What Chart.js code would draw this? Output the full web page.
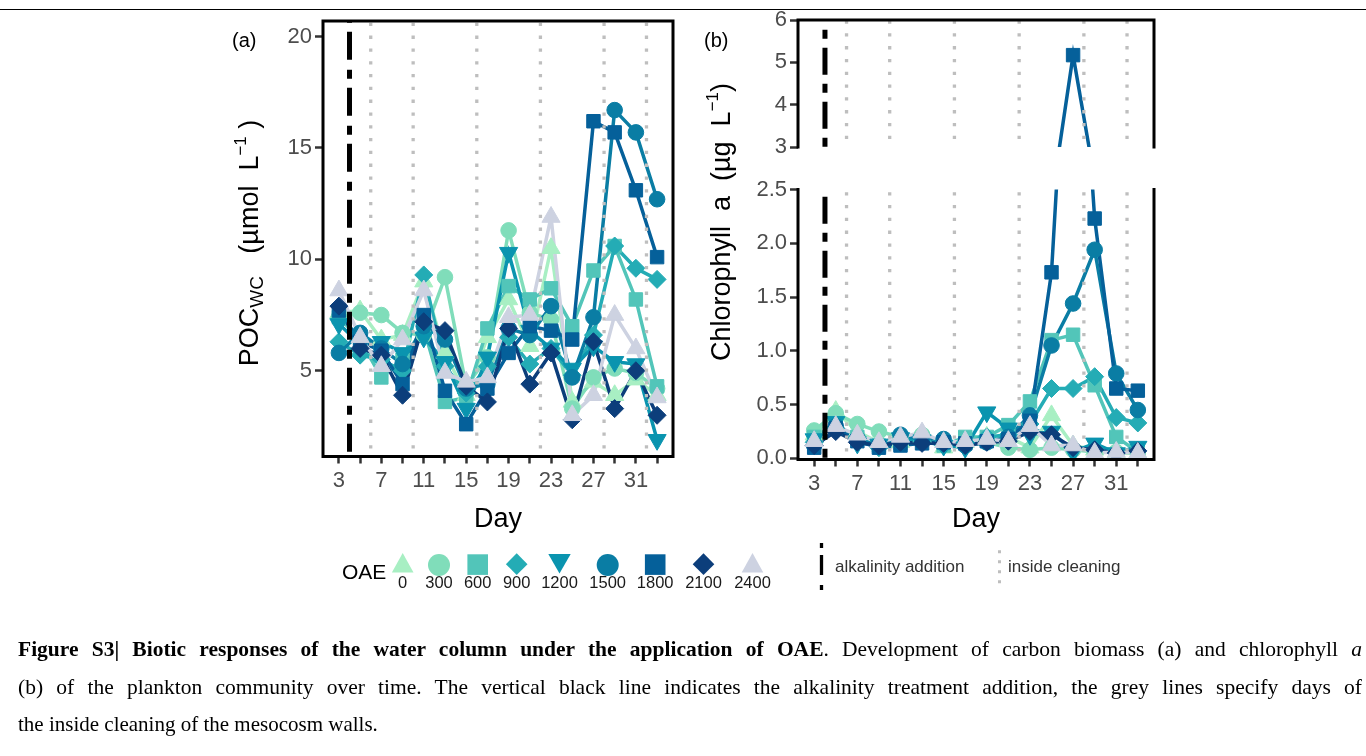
<!DOCTYPE html>
<html>
<head>
<meta charset="utf-8">
<script src="https://cdn.jsdelivr.net/npm/chart.js@4.4.1/dist/chart.umd.min.js"></script>
<style>
html,body{margin:0;padding:0;background:#fff;}
#page{position:relative;width:1366px;height:756px;overflow:hidden;font-family:"Liberation Sans",Arial,sans-serif;background:#fff;}
canvas{position:absolute;left:0;top:0;}
.t{position:absolute;white-space:nowrap;}
.yt{position:absolute;white-space:nowrap;transform:translate(-50%,-50%) rotate(-90deg);font-size:27px;color:#000;line-height:1;}
.yt sub{font-size:19px;vertical-align:-5px;}
.yt sup{font-size:17px;vertical-align:12px;}
.day{position:absolute;font-size:27px;color:#000;transform:translate(-50%,-50%);line-height:1;}
.lab{position:absolute;font-size:20px;color:#000;transform:translateY(-50%);line-height:1;}
.leg{position:absolute;font-size:16.5px;color:#1a1a1a;transform:translate(-50%,-50%);line-height:1;}
.cap{position:absolute;left:18px;width:1344px;font-family:"Liberation Serif","Times New Roman",serif;font-size:21px;line-height:37.5px;height:37.5px;color:#000;white-space:nowrap;}
.just{text-align:justify;text-align-last:justify;white-space:normal;font-size:21.5px;}
</style>
</head>
<body>
<div id="page">
  <div style="position:absolute;left:0;top:9px;width:1366px;height:1px;background:#000"></div>
  <canvas id="cA" width="1366" height="620"></canvas>
  <canvas id="cBu" width="1366" height="620"></canvas>
  <canvas id="cBl" width="1366" height="620"></canvas>
  <svg id="legsvg" width="1366" height="756" style="position:absolute;left:0;top:0"></svg>
  <div class="lab" style="left:232px;top:40px">(a)</div>
  <div class="lab" style="left:704px;top:40px">(b)</div>
  <div class="yt" style="left:249px;top:243px">POC<sub>WC</sub>&nbsp;&nbsp;&nbsp;(µmol&nbsp;&nbsp;L<sup>−1</sup>&nbsp;)</div>
  <div class="yt" style="left:719px;top:222px">Chlorophyll&nbsp; a&nbsp; (µg&nbsp; L<sup>−1</sup>)</div>
  <div class="day" style="left:498px;top:518px">Day</div>
  <div class="day" style="left:976px;top:518px">Day</div>
  <div class="t" style="left:342px;top:561px;font-size:21px;color:#000;line-height:1">OAE</div>
  <div class="t" style="left:835px;top:558px;font-size:17px;color:#333;line-height:1">alkalinity addition</div>
  <div class="t" style="left:1008px;top:558px;font-size:17px;color:#333;line-height:1">inside cleaning</div>
  <div id="legtext"></div>
  <div class="cap just" style="top:631px"><b>Figure S3| Biotic responses of the water column under the application of OAE</b>. Development of carbon biomass (a) and chlorophyll <i>a</i></div>
  <div class="cap just" style="top:668.5px">(b) of the plankton community over time. The vertical black line indicates the alkalinity treatment addition, the grey lines specify days of</div>
  <div class="cap" style="top:706px">the inside cleaning of the mesocosm walls.</div>
</div>
<script>
// ---------------- data ----------------
const days = [3,5,7,9,11,13,15,17,19,21,23,25,27,29,31,33];
const labelDays = [3,7,11,15,19,23,27,31];
const cleaningDays = [6,10,16,22,28,32];
const additionDay = 4;
const oaeLevels = ['0','300','600','900','1200','1500','1800','2100','2400'];

const poc0    = [7.6, 7.7, 6.4, 6.6, 9.0, 5.8, 3.9, 6.5, 8.2, 6.1, 10.5, 3.6, 4.5, 3.9, 4.6, 3.9];
const poc300  = [7.4, 7.6, 7.5, 6.7, 6.6, 9.2, 4.3, 5.6, 11.3, 7.6, 7.3, 3.3, 4.7, 5.1, 4.9, 4.2];
const poc600  = [7.4, 6.4, 4.7, 5.5, 6.9, 3.6, 3.8, 6.9, 8.8, 8.2, 8.7, 7.0, 9.5, 10.6, 8.2, 4.3];
const poc900  = [6.3, 5.7, 5.5, 5.0, 9.3, 5.2, 4.0, 5.2, 6.5, 5.3, 6.0, 4.8, 6.6, 10.6, 9.6, 9.1];
const poc1200 = [7.1, 6.2, 6.3, 5.8, 6.5, 5.4, 3.3, 5.6, 10.3, 6.8, 6.0, 5.1, 6.1, 5.4, 5.3, 1.9];
const poc1500 = [5.8, 6.7, 6.0, 5.3, 7.0, 6.4, 4.2, 4.4, 6.9, 6.6, 7.9, 4.7, 7.4, 16.7, 15.7, 12.7];
const poc1800 = [7.7, 6.3, 5.9, 4.4, 7.5, 4.1, 2.6, 4.2, 5.8, 7.0, 6.8, 6.4, 16.2, 15.7, 13.1, 10.1];
const poc2100 = [7.9, 6.0, 5.7, 3.9, 7.2, 6.8, 4.3, 3.6, 6.9, 4.4, 5.8, 2.8, 6.3, 3.3, 5.0, 3.0];
const poc2400 = [8.6, 6.5, 5.2, 6.4, 8.6, 4.9, 4.5, 4.7, 7.4, 7.5, 11.9, 3.0, 3.9, 7.5, 6.0, 3.8];

const chl0    = [0.22, 0.44, 0.25, 0.15, 0.15, 0.20, 0.10, 0.15, 0.20, 0.20, 0.10, 0.40, 0.12, 0.08, 0.05, 0.05];
const chl300  = [0.26, 0.42, 0.32, 0.25, 0.20, 0.22, 0.15, 0.12, 0.15, 0.10, 0.08, 0.10, 0.08, 0.06, 0.06, 0.05];
const chl600  = [0.20, 0.30, 0.20, 0.12, 0.14, 0.18, 0.12, 0.20, 0.20, 0.31, 0.53, 1.10, 1.15, 0.68, 0.20, 0.06];
const chl900  = [0.15, 0.28, 0.20, 0.10, 0.15, 0.16, 0.12, 0.15, 0.20, 0.22, 0.32, 0.65, 0.65, 0.76, 0.38, 0.33];
const chl1200 = [0.18, 0.34, 0.14, 0.13, 0.19, 0.17, 0.12, 0.10, 0.43, 0.28, 0.22, 0.25, 0.06, 0.14, 0.05, 0.11];
const chl1500 = [0.12, 0.30, 0.18, 0.12, 0.22, 0.18, 0.18, 0.12, 0.15, 0.20, 0.40, 1.05, 1.44, 1.94, 0.79, 0.45];
const chl1800 = [0.10, 0.28, 0.16, 0.10, 0.12, 0.14, 0.15, 0.14, 0.16, 0.18, 0.35, 1.73, 5.17, 2.23, 0.65, 0.63];
const chl2100 = [0.12, 0.25, 0.15, 0.12, 0.15, 0.14, 0.14, 0.12, 0.15, 0.16, 0.25, 0.22, 0.10, 0.08, 0.05, 0.07];
const chl2400 = [0.16, 0.30, 0.22, 0.15, 0.20, 0.24, 0.15, 0.16, 0.18, 0.16, 0.30, 0.12, 0.12, 0.05, 0.06, 0.05];

const pocTicks = [5, 10, 15, 20];
const chlUpperTicks = [3, 4, 5, 6];
const chlLowerTicks = [0, 0.5, 1, 1.5, 2, 2.5];

// ---------------- styles ----------------
const colors = ['#A8EFC3','#80DDBA','#52C5B9','#24ACB5','#0A94AF','#0A7DA4','#05609A','#0C3E7B','#CDD2E1'];
const shapes = ['triangle','circle','rect','rectRot','triangle','circle','rect','rectRot','triangle'];
const rotations = [0,0,0,0,180,0,0,0,0];
const radii = [10.5,7.8,9.5,9,10.5,7.8,9.5,9,10.5];

const pocSeries = [poc0,poc300,poc600,poc900,poc1200,poc1500,poc1800,poc2100,poc2400];
const chlSeries = [chl0,chl300,chl600,chl900,chl1200,chl1500,chl1800,chl2100,chl2400];

function makeDatasets(series) {
  const ds = [];
  series.forEach((vals, i) => {
    const pts = days.map((d, j) => ({x: d, y: vals[j]}));
    ds.push({label: oaeLevels[i] + ' line', data: pts, borderColor: colors[i], backgroundColor: colors[i],
      borderWidth: 3.5, pointRadius: 0, pointHoverRadius: 0, showLine: true, fill: false, order: 30 - i});
    ds.push({label: oaeLevels[i], data: pts, showLine: false, pointStyle: shapes[i], pointRotation: rotations[i],
      pointRadius: radii[i], pointHoverRadius: radii[i], pointBackgroundColor: colors[i], pointBorderColor: colors[i],
      pointBorderWidth: 1, borderColor: colors[i], backgroundColor: colors[i], order: 10 - i});
  });
  return ds;
}

const tickFont = {family: 'Liberation Sans', size: 22};
const gridCfg = {display: true, drawOnChartArea: false, drawTicks: true, tickLength: 8, tickWidth: 2.5, tickColor: '#333'};

function xScale(display) {
  return {type: 'linear', min: 1.5, max: 34.5, display: display,
    afterBuildTicks: s => { s.ticks = days.map(v => ({value: v})); },
    afterFit: s => { if (display) s.height = 40; },
    ticks: {autoSkip: false, maxRotation: 0, padding: 4, color: '#4d4d4d', font: tickFont,
      callback: v => labelDays.includes(v) ? String(v) : ''},
    grid: Object.assign({}, gridCfg, {tickLength: 7}),
    border: {display: false}};
}
function yScale(min, max, ticks, fmt) {
  return {type: 'linear', min: min, max: max,
    afterBuildTicks: s => { s.ticks = ticks.map(v => ({value: v})); },
    afterFit: s => { s.width = 60; },
    ticks: {padding: 3, color: '#4d4d4d', font: tickFont, callback: fmt},
    grid: gridCfg, border: {display: false}};
}

const vlinePlugin = {
  id: 'vlines',
  afterDatasetsDraw(chart, args, opts) {
    const ctx = chart.ctx, a = chart.chartArea, x = chart.scales.x;
    ctx.save();
    ctx.beginPath(); ctx.rect(a.left, a.top, a.right - a.left, a.bottom - a.top); ctx.clip();
    ctx.lineCap = 'butt';
    ctx.strokeStyle = '#bebebe'; ctx.lineWidth = 3.3; ctx.setLineDash([3.3, 9.5]); ctx.lineDashOffset = 0;
    cleaningDays.forEach(d => {
      const px = x.getPixelForValue(d);
      ctx.beginPath(); ctx.moveTo(px, a.bottom - 8); ctx.lineTo(px, a.top); ctx.stroke();
    });
    ctx.strokeStyle = '#000'; ctx.lineWidth = 5; ctx.setLineDash(opts.pattern); ctx.lineDashOffset = opts.offset;
    const px = x.getPixelForValue(additionDay);
    ctx.beginPath(); ctx.moveTo(px, a.bottom); ctx.lineTo(px, a.top); ctx.stroke();
    ctx.restore();
  }
};
const framePlugin = {
  id: 'frame',
  afterDraw(chart, args, opts) {
    const ctx = chart.ctx, a = chart.chartArea;
    ctx.save();
    ctx.strokeStyle = '#000'; ctx.lineWidth = 3; ctx.setLineDash([]); ctx.lineCap = 'square';
    ctx.beginPath();
    const s = opts.sides;
    if (s.includes('t')) { ctx.moveTo(a.left, a.top); ctx.lineTo(a.right, a.top); }
    if (s.includes('b')) { ctx.moveTo(a.left, a.bottom); ctx.lineTo(a.right, a.bottom); }
    if (s.includes('l')) { ctx.moveTo(a.left, a.top); ctx.lineTo(a.left, a.bottom); }
    if (s.includes('r')) { ctx.moveTo(a.right, a.top); ctx.lineTo(a.right, a.bottom); }
    ctx.stroke();
    ctx.restore();
  }
};

function makeChart(id, series, yCfg, xDisplay, padding, sides, pattern, offset) {
  return new Chart(document.getElementById(id), {
    type: 'line',
    data: {datasets: makeDatasets(series)},
    options: {responsive: false, animation: false, devicePixelRatio: 1, events: [],
      layout: {padding: padding},
      scales: {x: xScale(xDisplay), y: yCfg},
      elements: {line: {tension: 0}},
      plugins: {legend: {display: false}, tooltip: {enabled: false},
        frame: {sides: sides}, vlines: {pattern: pattern, offset: offset}}},
    plugins: [vlinePlugin, framePlugin]
  });
}

const H = 620;
makeChart('cA', pocSeries, yScale(1.15, 20.7, pocTicks, v => String(v)), true,
  {left: 323 - 60, right: 1366 - 673, top: 21, bottom: H - 456.5 - 40}, 'tblr', [28, 9, 9, 10], 51.3);
makeChart('cBu', chlSeries, yScale(3, 6, chlUpperTicks, v => String(v)), false,
  {left: 798 - 60, right: 1366 - 1154, top: 20, bottom: H - 147}, 'tlr', [27, 9, 9, 9], 35.7);
makeChart('cBl', chlSeries, yScale(-0.01, 2.5, chlLowerTicks, v => v.toFixed(1)), true,
  {left: 798 - 60, right: 1366 - 1154, top: 189.5, bottom: H - 459.5 - 40}, 'blr', [27, 9, 9, 9], 34.2);

// ---------------- legend ----------------
const legX = [402.7, 439, 477.7, 516.7, 559.5, 607.7, 655.2, 703.5, 752.5];
const NS = 'http://www.w3.org/2000/svg';
const svg = document.getElementById('legsvg');
function el(tag, attrs) { const e = document.createElementNS(NS, tag); for (const k in attrs) e.setAttribute(k, attrs[k]); svg.appendChild(e); return e; }
oaeLevels.forEach((lv, i) => {
  const cx = legX[i], c = colors[i];
  if (shapes[i] === 'circle') el('circle', {cx: cx, cy: 565, r: 11, fill: c});
  else if (shapes[i] === 'rect') el('rect', {x: cx - 10.3, y: 554.3, width: 20.6, height: 20.6, fill: c});
  else if (shapes[i] === 'rectRot') el('polygon', {points: `${cx},553.3 ${cx+10.8},564.2 ${cx},575 ${cx-10.8},564.2`, fill: c});
  else if (rotations[i] === 180) el('polygon', {points: `${cx-11.2},554 ${cx+11.2},554 ${cx},573.5`, fill: c});
  else el('polygon', {points: `${cx},553 ${cx-10.8},572.5 ${cx+10.8},572.5`, fill: c});
  const d = document.createElement('div');
  d.className = 'leg'; d.style.left = cx + 'px'; d.style.top = '582px'; d.textContent = lv;
  document.getElementById('legtext').appendChild(d);
});
el('line', {x1: 821.5, y1: 543, x2: 821.5, y2: 590, stroke: '#000', 'stroke-width': 3.3, 'stroke-dasharray': '5 7 20 10 5 100'});
el('line', {x1: 999.5, y1: 550.2, x2: 999.5, y2: 584, stroke: '#bebebe', 'stroke-width': 3, 'stroke-dasharray': '3 7'});
</script>
</body>
</html>
